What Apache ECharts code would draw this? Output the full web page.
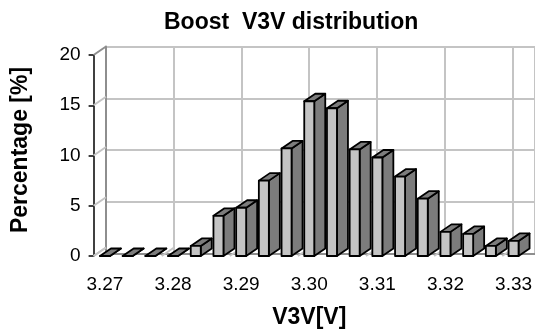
<!DOCTYPE html>
<html>
<head>
<meta charset="utf-8">
<script src="https://cdn.jsdelivr.net/npm/echarts@6/dist/echarts.min.js"></script>
<style>
  html, body { margin: 0; padding: 0; background: #fff; }
  #chart { width: 535px; height: 334px; }
</style>
</head>
<body>
<div id="chart"></div>
<script>
// Voltage bins (V), one bar per bin
const categories = ['3.2700', '3.2733', '3.2767', '3.2800', '3.2833', '3.2867', '3.2900',
  '3.2933', '3.2967', '3.3000', '3.3033', '3.3067', '3.3100', '3.3133', '3.3167',
  '3.3200', '3.3233', '3.3267', '3.3300'];
// Share of samples in each bin (%)
const percentages = [0, 0, 0, 0, 1.0, 4.0, 4.8, 7.5, 10.7, 15.4, 14.7, 10.6, 9.8, 7.9, 5.7, 2.4, 2.2, 1.0, 1.5];
// Labels shown under every third bin
const xTickLabels = ['3.27', '3.28', '3.29', '3.30', '3.31', '3.32', '3.33'];
const yTicks = [0, 5, 10, 15, 20];
const gridBoundaries = [0, 3, 6, 9, 12, 15, 18];

const FONT = '"Liberation Sans", Arial, sans-serif';
// depth of the 3D box (wall offset) and of each column
const WALL_DX = 12.4, WALL_DY = -8.5;
const BAR_DX = 11, BAR_DY = -7.5, BAR_W = 10;

const chart = echarts.init(document.getElementById('chart'), null, { renderer: 'canvas' });

function renderColumn(params, api) {
  const idx = api.value(0);
  const top = api.coord([idx, api.value(1)]);
  const base = api.coord([idx, 0]);
  const l = top[0] - BAR_W / 2, r = top[0] + BAR_W / 2;
  const ty = top[1], by = base[1];
  const stroke = { stroke: '#000', lineWidth: 1.8, lineJoin: 'round' };
  return {
    type: 'group',
    children: [
      { type: 'polygon', shape: { points: [[r, by], [r, ty], [r + BAR_DX, ty + BAR_DY], [r + BAR_DX, by + BAR_DY]] },
        style: Object.assign({ fill: '#7c7c7c' }, stroke) },
      { type: 'polygon', shape: { points: [[l, ty], [r, ty], [r + BAR_DX, ty + BAR_DY], [l + BAR_DX, ty + BAR_DY]] },
        style: Object.assign({ fill: '#7c7c7c' }, stroke) },
      { type: 'rect', shape: { x: l, y: ty, width: BAR_W, height: by - ty },
        style: Object.assign({ fill: '#c4c4c4' }, stroke) }
    ]
  };
}

// slanted lines on the side wall (one per y tick)
function renderSideWall(params, api) {
  const p = api.coord([0, api.value(0)]);
  const half = api.size([1, 0])[0] / 2;
  const x = p[0] - half;
  const isTop = api.value(0) === 20;
  return {
    type: 'line',
    shape: { x1: x, y1: p[1], x2: x + WALL_DX, y2: p[1] + WALL_DY },
    style: { stroke: isTop ? '#8e8e8e' : '#c4c4c4', lineWidth: 2 }
  };
}

// slanted lines on the floor (continuation of the vertical wall lines)
function renderFloor(params, api) {
  const p = api.coord([api.value(0), 0]);
  const half = api.size([1, 0])[0] / 2;
  const x = p[0] - half;
  return {
    type: 'line',
    shape: { x1: x, y1: p[1], x2: x + WALL_DX, y2: p[1] + WALL_DY },
    style: { stroke: '#c4c4c4', lineWidth: 2 }
  };
}

chart.setOption({
  animation: false,
  title: {
    text: 'Boost  V3V distribution',
    left: 159,
    top: 6,
    textStyle: { fontFamily: FONT, fontWeight: 'bold', fontSize: 23, color: '#000' }
  },
  grid: [
    // back wall
    { left: 106, top: 46.5, right: -4, bottom: 80.5 },
    // front plane
    { left: 93.6, top: 55, right: 8.4, bottom: 72 }
  ],
  xAxis: [
    {
      gridIndex: 0, type: 'category', data: categories, position: 'top',
      boundaryGap: true,
      axisLine: { show: true, lineStyle: { color: '#8e8e8e', width: 2 } },
      axisTick: { show: false }, axisLabel: { show: false },
      splitLine: { show: true, interval: 2, lineStyle: { color: '#c4c4c4', width: 2 } }
    },
    {
      gridIndex: 1, type: 'category', data: categories,
      boundaryGap: true,
      axisLine: { show: false }, axisTick: { show: false },
      axisLabel: {
        interval: 0, margin: 19,
        fontFamily: FONT, fontSize: 19, color: '#000',
        formatter: (v, i) => (i % 3 === 0 ? xTickLabels[i / 3] : '')
      },
      name: 'V3V[V]', nameLocation: 'middle', nameGap: 50,
      nameTextStyle: { fontFamily: FONT, fontWeight: 'bold', fontSize: 23, color: '#000' }
    }
  ],
  yAxis: [
    {
      gridIndex: 0, type: 'value', min: 0, max: 20, interval: 5,
      axisLine: { show: true, lineStyle: { color: '#8e8e8e', width: 2 } },
      axisTick: { show: false }, axisLabel: { show: false },
      splitLine: { show: true, lineStyle: { color: '#c4c4c4', width: 2 } },
      name: 'Percentage [%]', nameLocation: 'middle', nameGap: 74, nameRotate: 90,
      nameTextStyle: { fontFamily: FONT, fontWeight: 'bold', fontSize: 23, color: '#000' }
    },
    {
      gridIndex: 1, type: 'value', min: 0, max: 20, interval: 5,
      axisLine: { show: true, lineStyle: { color: '#000', width: 1.5 } },
      axisTick: { show: true, length: 5, lineStyle: { color: '#000', width: 1.5 } },
      axisLabel: { margin: 13, fontFamily: FONT, fontSize: 19, color: '#000' },
      splitLine: { show: false }
    }
  ],
  series: [
    {
      type: 'custom', xAxisIndex: 1, yAxisIndex: 1, silent: true, z: 1,
      renderItem: renderSideWall, data: yTicks.map(v => [v])
    },
    {
      type: 'custom', xAxisIndex: 1, yAxisIndex: 1, silent: true, z: 1,
      renderItem: renderFloor, data: gridBoundaries.map(v => [v])
    },
    {
      type: 'custom', xAxisIndex: 1, yAxisIndex: 1, z: 3,
      renderItem: renderColumn,
      data: percentages.map((v, i) => [i, v])
    }
  ]
});
</script>
</body>
</html>
